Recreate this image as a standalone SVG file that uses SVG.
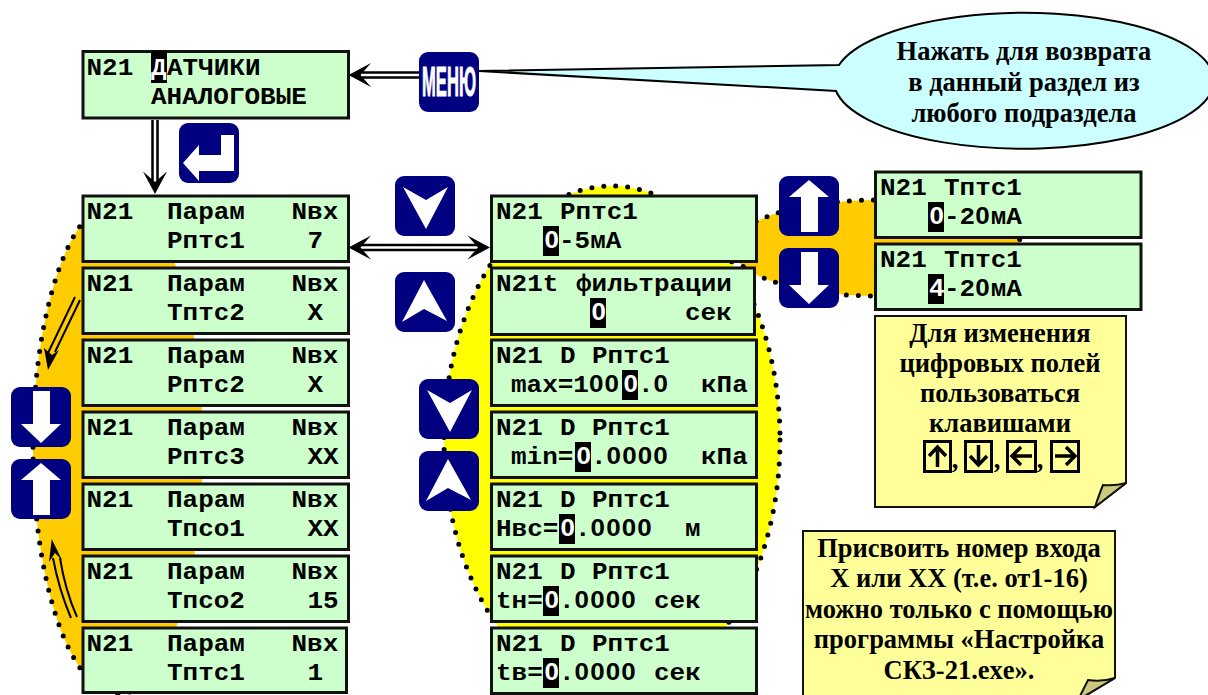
<svg xmlns="http://www.w3.org/2000/svg" width="1208" height="695" viewBox="0 0 1208 695">
<style>
.p{fill:#ccffcc;stroke:#111;stroke-width:3}
.h{fill:#000}
.m,.w{font-family:"Liberation Mono","DejaVu Sans Mono",monospace;font-weight:bold;font-size:23.2px}
.m{fill:#000}.w{fill:#fff}
.z{font-family:"Liberation Sans",sans-serif;letter-spacing:1px}
.s{font-family:"Liberation Serif","Noto Sans CJK SC",serif;font-weight:bold;font-size:26.5px;fill:#000;text-anchor:middle}
.b{fill:#000080}
.a{fill:#fff}
.o{fill:#ffcc00}
.d{fill:none;stroke:#000;stroke-width:5;stroke-linecap:round;stroke-dasharray:0 12}
.y{fill:#ffff00;stroke:#000;stroke-width:5;stroke-linecap:round;stroke-dasharray:0 12}
.k{stroke:#000;stroke-width:7.5;fill:none}
.i{stroke:#fff;stroke-width:2.5;fill:none}
.t{stroke:#000;stroke-width:2;fill:none}
.n{fill:#ffff99;stroke:#111;stroke-width:2}
.f{fill:#cdc87f;stroke:#111;stroke-width:2}
.c{fill:none;stroke:#000;stroke-width:3.5}
.e{fill:none;stroke:#000;stroke-width:3}
</style>
<defs>
<path id="head" d="M0,0L22.5,-12L12,0L22.5,12Z" fill="#000"/>
<g id="up"><rect class="b" width="60" height="60" rx="9"/><path class="a" d="M30,4L50,21H39V56H22V21H10Z"/></g>
<g id="down"><rect class="b" width="60" height="60" rx="9"/><path class="a" d="M22,4H39V37H50L30,56L10,37H22Z"/></g>
<g id="chevd"><rect class="b" width="60" height="60" rx="9"/><path class="a" d="M8,11L31,24L53,11L31,53Z"/></g>
<g id="chevu"><rect class="b" width="60" height="60" rx="9"/><path class="a" d="M29,8L52,49L29,37L7,50Z"/></g>
</defs>

<g id="backgrounds">
<ellipse class="o" cx="118" cy="447" rx="85" ry="247"/>
<path class="d" d="M140,686A85,247 0 0 1 118,694A85,247 0 0 1 33,447A85,247 0 0 1 118,200"/>
<ellipse class="y" cx="612" cy="440" rx="168" ry="254"/>
<ellipse class="o" cx="877" cy="248" rx="145" ry="48"/>
<path class="d" d="M1022,248A145,48 0 0 1 877,296A145,48 0 0 1 732,248A145,48 0 0 1 877,200A145,48 0 0 1 1022,248"/>
</g>

<g id="panel-top"><rect class="p" x="83" y="51.5" width="265.5" height="66.5"/><rect class="h" x="151" y="51" width="16" height="32"/>
<text class="m" transform="translate(86.5,75) scale(1.12 1)">N21</text><text class="w" transform="translate(151,75) scale(1.12 1)">Д</text><text class="m" transform="translate(167,75) scale(1.12 1)">АТЧИКИ</text><text class="m" transform="translate(151,104) scale(1.12 1)">АНАЛОГОВЫЕ</text></g>

<g id="panel-l1"><rect class="p" x="83" y="196" width="265.5" height="65.5"/><text class="m" transform="translate(86.5,219) scale(1.12 1)">N21</text><text class="m" transform="translate(167,219) scale(1.12 1)">Парам</text><text class="m" transform="translate(291.5,219) scale(1.12 1)">Nвх</text><text class="m" transform="translate(167,248) scale(1.12 1)">Рптс1</text><text class="m" transform="translate(307.5,248) scale(1.12 1)">7</text></g>
<g id="panel-l2"><rect class="p" x="83" y="268" width="265.5" height="65.5"/><text class="m" transform="translate(86.5,291) scale(1.12 1)">N21</text><text class="m" transform="translate(167,291) scale(1.12 1)">Парам</text><text class="m" transform="translate(291.5,291) scale(1.12 1)">Nвх</text><text class="m" transform="translate(167,320) scale(1.12 1)">Тптс2</text><text class="m" transform="translate(307.5,320) scale(1.12 1)">X</text></g>
<g id="panel-l3"><rect class="p" x="83" y="340" width="265.5" height="65.5"/><text class="m" transform="translate(86.5,363) scale(1.12 1)">N21</text><text class="m" transform="translate(167,363) scale(1.12 1)">Парам</text><text class="m" transform="translate(291.5,363) scale(1.12 1)">Nвх</text><text class="m" transform="translate(167,392) scale(1.12 1)">Рптс2</text><text class="m" transform="translate(307.5,392) scale(1.12 1)">X</text></g>
<g id="panel-l4"><rect class="p" x="83" y="412" width="265.5" height="65.5"/><text class="m" transform="translate(86.5,435) scale(1.12 1)">N21</text><text class="m" transform="translate(167,435) scale(1.12 1)">Парам</text><text class="m" transform="translate(291.5,435) scale(1.12 1)">Nвх</text><text class="m" transform="translate(167,464) scale(1.12 1)">Рптс3</text><text class="m" transform="translate(307.5,464) scale(1.12 1)">XX</text></g>
<g id="panel-l5"><rect class="p" x="83" y="484" width="265.5" height="65.5"/><text class="m" transform="translate(86.5,507) scale(1.12 1)">N21</text><text class="m" transform="translate(167,507) scale(1.12 1)">Парам</text><text class="m" transform="translate(291.5,507) scale(1.12 1)">Nвх</text><text class="m" transform="translate(167,536) scale(1.12 1)">Тпсо1</text><text class="m" transform="translate(307.5,536) scale(1.12 1)">XX</text></g>
<g id="panel-l6"><rect class="p" x="83" y="556" width="265.5" height="65.5"/><text class="m" transform="translate(86.5,579) scale(1.12 1)">N21</text><text class="m" transform="translate(167,579) scale(1.12 1)">Парам</text><text class="m" transform="translate(291.5,579) scale(1.12 1)">Nвх</text><text class="m" transform="translate(167,608) scale(1.12 1)">Тпсо2</text><text class="m" transform="translate(307.5,608) scale(1.12 1)">15</text></g>
<g id="panel-l7"><rect class="p" x="83" y="628" width="263.5" height="64.5"/><text class="m" transform="translate(86.5,651) scale(1.12 1)">N21</text><text class="m" transform="translate(167,651) scale(1.12 1)">Парам</text><text class="m" transform="translate(291.5,651) scale(1.12 1)">Nвх</text><text class="m" transform="translate(167,680) scale(1.12 1)">Тптс1</text><text class="m" transform="translate(307.5,680) scale(1.12 1)">1</text></g>

<g id="panel-m1"><rect class="p" x="491.5" y="196" width="265" height="65.5"/><text class="m" transform="translate(496,219) scale(1.12 1)">N21</text><text class="m" transform="translate(560,219) scale(1.12 1)">Рптс1</text><rect class="h" x="543" y="226" width="16" height="30"/><text class="w z" transform="translate(544.5,248) scale(1.12 1)">0</text><text class="m" transform="translate(559,248) scale(1.12 1)">-5мА</text></g>
<g id="panel-m2"><rect class="p" x="491.5" y="268" width="263" height="66.5"/><text class="m" transform="translate(496,291) scale(1.12 1)">N21t</text><text class="m" transform="translate(576,291) scale(1.12 1)">фильтрации</text><rect class="h" x="590" y="298" width="16" height="30"/><text class="w z" transform="translate(591.5,320) scale(1.12 1)">0</text><text class="m" transform="translate(685,320) scale(1.12 1)">сек</text></g>
<g id="panel-m3"><rect class="p" x="491.5" y="340" width="265" height="65.5"/><text class="m" transform="translate(496,363) scale(1.12 1)">N21</text><text class="m" transform="translate(560,363) scale(1.12 1)">D</text><text class="m" transform="translate(592,363) scale(1.12 1)">Рптс1</text><text class="m" transform="translate(511,392) scale(1.12 1)">max=1<tspan class="z">00</tspan></text><rect class="h" x="622" y="370" width="16" height="30"/><text class="w z" transform="translate(623.5,392) scale(1.12 1)">0</text><text class="m" transform="translate(638,392) scale(1.12 1)">.<tspan class="z">0</tspan></text><text class="m" transform="translate(701,392) scale(1.12 1)">кПа</text></g>
<g id="panel-m4"><rect class="p" x="491.5" y="412" width="265" height="65.5"/><text class="m" transform="translate(496,435) scale(1.12 1)">N21</text><text class="m" transform="translate(560,435) scale(1.12 1)">D</text><text class="m" transform="translate(592,435) scale(1.12 1)">Рптс1</text><text class="m" transform="translate(511,464) scale(1.12 1)">min=</text><rect class="h" x="575" y="442" width="16" height="30"/><text class="w z" transform="translate(576.5,464) scale(1.12 1)">0</text><text class="m" transform="translate(591,464) scale(1.12 1)">.<tspan class="z">0000</tspan></text><text class="m" transform="translate(701,464) scale(1.12 1)">кПа</text></g>
<g id="panel-m5"><rect class="p" x="491.5" y="484" width="265" height="65.5"/><text class="m" transform="translate(496,507) scale(1.12 1)">N21</text><text class="m" transform="translate(560,507) scale(1.12 1)">D</text><text class="m" transform="translate(592,507) scale(1.12 1)">Рптс1</text><text class="m" transform="translate(496,536) scale(1.12 1)">Нвс=</text><rect class="h" x="559" y="514" width="16" height="30"/><text class="w z" transform="translate(560.5,536) scale(1.12 1)">0</text><text class="m" transform="translate(575,536) scale(1.12 1)">.<tspan class="z">0000</tspan></text><text class="m" transform="translate(685,536) scale(1.12 1)">м</text></g>
<g id="panel-m6"><rect class="p" x="491.5" y="556" width="265" height="65.5"/><text class="m" transform="translate(496,579) scale(1.12 1)">N21</text><text class="m" transform="translate(560,579) scale(1.12 1)">D</text><text class="m" transform="translate(592,579) scale(1.12 1)">Рптс1</text><text class="m" transform="translate(496,608) scale(1.12 1)">tн=</text><rect class="h" x="543" y="586" width="16" height="30"/><text class="w z" transform="translate(544.5,608) scale(1.12 1)">0</text><text class="m" transform="translate(559,608) scale(1.12 1)">.<tspan class="z">0000</tspan></text><text class="m" transform="translate(654,608) scale(1.12 1)">сек</text></g>
<g id="panel-m7"><rect class="p" x="491.5" y="628" width="265" height="65.5"/><text class="m" transform="translate(496,651) scale(1.12 1)">N21</text><text class="m" transform="translate(560,651) scale(1.12 1)">D</text><text class="m" transform="translate(592,651) scale(1.12 1)">Рптс1</text><text class="m" transform="translate(496,680) scale(1.12 1)">tв=</text><rect class="h" x="543" y="658" width="16" height="30"/><text class="w z" transform="translate(544.5,680) scale(1.12 1)">0</text><text class="m" transform="translate(559,680) scale(1.12 1)">.<tspan class="z">0000</tspan></text><text class="m" transform="translate(654,680) scale(1.12 1)">сек</text></g>

<g id="panel-r1"><rect class="p" x="875.5" y="172" width="265.5" height="65.5"/><text class="m" transform="translate(880,195) scale(1.12 1)">N21</text><text class="m" transform="translate(944,195) scale(1.12 1)">Тптс1</text><rect class="h" x="928" y="202" width="16" height="30"/><text class="w z" transform="translate(929.5,224) scale(1.12 1)">0</text><text class="m" transform="translate(944,224) scale(1.12 1)">-2<tspan class="z">0</tspan>мА</text></g>
<g id="panel-r2"><rect class="p" x="875.5" y="244" width="265.5" height="65.5"/><text class="m" transform="translate(880,267) scale(1.12 1)">N21</text><text class="m" transform="translate(944,267) scale(1.12 1)">Тптс1</text><rect class="h" x="928" y="274" width="16" height="30"/><text class="w z" transform="translate(929.5,296) scale(1.12 1)">4</text><text class="m" transform="translate(944,296) scale(1.12 1)">-2<tspan class="z">0</tspan>мА</text></g>

<g id="connectors">
<path class="k" d="M362,75H420"/><path class="i" d="M362,75H420"/><use href="#head" transform="translate(348.5,75)"/>
<path class="k" d="M155,120V183"/><path class="i" d="M155,120V183"/><use href="#head" transform="translate(155,194) rotate(-90)"/>
<path class="k" d="M360,247.5H478"/><path class="i" d="M360,247.5H478"/><use href="#head" transform="translate(348.5,247.5)"/><use href="#head" transform="translate(490,247.5) rotate(180)"/>
<path class="t" d="M75,297L48,353M80,300L55,352"/>
<path d="M48,370L44,348L52,355L59,350Z" fill="#000"/>
<path class="t" d="M53,558Q59,590 71,618M60,558Q65,590 77,617"/>
<path d="M51.7,539L62,560L55,553L49,562Z" fill="#000"/>
</g>

<g id="btn-menu"><rect class="b" x="419" y="52" width="60" height="60" rx="9"/><text x="422" y="96" textLength="54" lengthAdjust="spacingAndGlyphs" font-family="Liberation Sans, sans-serif" font-weight="bold" font-size="43" fill="#fff" stroke="#fff" stroke-width="1">МЕНЮ</text></g>
<g id="btn-enter"><rect class="b" x="179" y="123" width="60" height="60" rx="9"/><path class="a" transform="translate(179,123)" d="M4,40L20,22V32H42V12H55V48H20V58Z"/></g>
<use id="btn-chev-down" href="#chevd" x="395" y="176"/>
<use id="btn-chev-up" href="#chevu" x="395" y="272"/>
<use id="btn-left-down" href="#down" x="11" y="387"/>
<use id="btn-left-up" href="#up" x="11" y="459"/>
<use id="btn-mid-down" href="#chevd" x="419" y="379"/>
<use id="btn-mid-up" href="#chevu" x="419" y="451"/>
<use id="btn-right-up" href="#up" x="779" y="176"/>
<use id="btn-right-down" href="#down" x="779" y="248"/>

<g id="callout">
<path d="M479,71L839,65A190,68 0 1 1 836,91Z" fill="#ccffff" stroke="#000" stroke-width="2"/>
<text class="s" x="1024" y="60">Нажать для возврата</text>
<text class="s" x="1024" y="91">в данный раздел из</text>
<text class="s" x="1024" y="122">любого подраздела</text>
</g>

<g id="note-keys">
<path class="n" d="M875,316H1126V483L1095,507H875Z"/>
<path class="f" d="M1095,507Q1100,492 1103,485Q1115,486 1126,483Z"/>
<text class="s" x="1000" y="342">Для изменения</text>
<text class="s" x="1000" y="372">цифровых полей</text>
<text class="s" x="1000" y="402">пользоваться</text>
<text class="s" x="1000" y="432">клавишами</text>
<rect class="e" x="924.5" y="441.5" width="26" height="30"/><path class="c" d="M937.5,467V447M929,456L937.5,447L946,456"/>
<rect class="e" x="965.5" y="441.5" width="26" height="30"/><path class="c" d="M978.5,445V465M970,456L978.5,465L987,456"/>
<rect class="e" x="1007.5" y="441.5" width="28" height="30"/><path class="c" d="M1032,456H1012M1021,447L1012,456L1021,465"/>
<rect class="e" x="1051.5" y="441.5" width="27" height="30"/><path class="c" d="M1055,456H1075M1066,447L1075,456L1066,465"/>
<text class="s" x="955" y="468">,</text><text class="s" x="997" y="468">,</text><text class="s" x="1040" y="468">,</text>
</g>

<g id="note-input">
<path class="n" d="M803,531H1115V678L1078,700H803Z"/>
<path class="f" d="M1078,700Q1084,688 1088,680Q1102,682 1115,678Z"/>
<text class="s" x="959" y="557">Присвоить номер входа</text>
<text class="s" x="959" y="587">X или XX (т.е. от1-16)</text>
<text class="s" x="959" y="618">можно только с помощью</text>
<text class="s" x="959" y="648">программы «Настройка</text>
<text class="s" x="959" y="679">СКЗ-21.exe».</text>
</g>
</svg>
